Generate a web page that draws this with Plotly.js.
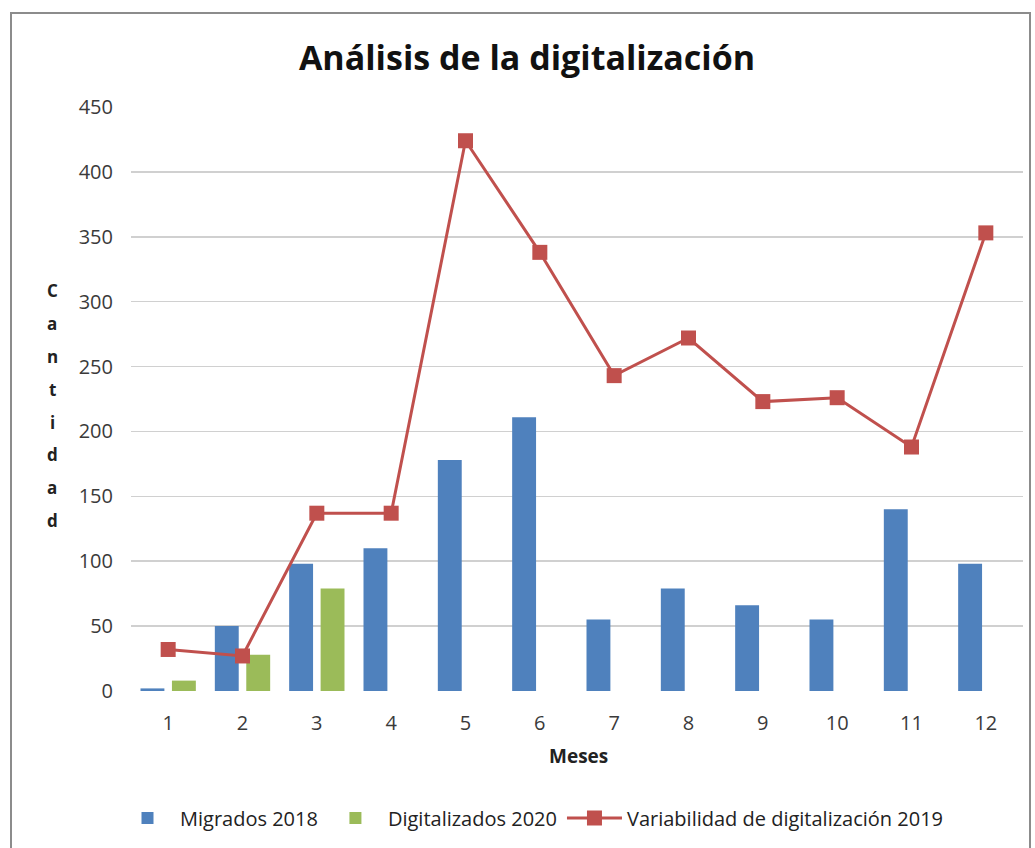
<!DOCTYPE html>
<html>
<head>
<meta charset="utf-8">
<script src="https://cdn.plot.ly/plotly-3.0.1.min.js"></script>
<style>
html,body{margin:0;padding:0;background:#fff;width:1035px;height:848px;overflow:hidden;}
#frame{position:absolute;left:10px;top:12px;width:1021px;height:836px;border:2px solid #8c8c8c;border-bottom:none;box-sizing:border-box;}
#chart{position:absolute;left:0;top:0;width:1035px;height:848px;}
</style>
</head>
<body>
<div id="frame"></div>
<div id="chart"></div>
<script>
const months = ['1','2','3','4','5','6','7','8','9','10','11','12'];
const migrados2018 = [2, 50, 98, 110, 178, 211, 55, 79, 66, 55, 140, 98];
const digitalizados2020 = [8, 28, 79, 0, 0, 0, 0, 0, 0, 0, 0, 0];
const variabilidad2019 = [32, 27, 137, 137, 424, 338, 243, 272, 223, 226, 188, 353];
const yTicks = [0, 50, 100, 150, 200, 250, 300, 350, 400, 450];
const yTitleLetters = ['C','a','n','t','i','d','a','d'];

const FONT = 'Open Sans, Noto Sans, sans-serif';

const traces = [
  {type:'bar', name:'Migrados 2018', x:months, y:migrados2018,
   marker:{color:'#4f81bd'}},
  {type:'bar', name:'Digitalizados 2020', x:months, y:digitalizados2020,
   marker:{color:'#9bbb59'}},
  {type:'scatter', mode:'lines+markers', name:'Variabilidad de digitalización 2019',
   x:months, y:variabilidad2019,
   line:{color:'#c0504d', width:3},
   marker:{symbol:'square', size:15, color:'#c0504d'}}
];

const annotations = [
  {text:'<b>Meses</b>', xref:'paper', yref:'paper', x:(578-131)/892, y:(692-757)/585,
   xanchor:'center', yanchor:'middle', showarrow:false,
   font:{family:FONT, size:19, color:'#222'}}
];
yTitleLetters.forEach((ch, i) => {
  annotations.push({text:'<b>'+ch+'</b>', xref:'paper', yref:'paper',
    x:(52-131)/892, y:(692-291 - i*32.9)/585, xanchor:'center', yanchor:'middle',
    showarrow:false, font:{family:FONT, size:17, color:'#222'}});
});

const layout = {
  width:1035, height:848, autosize:false,
  margin:{l:131, r:12, t:107, b:156, pad:0},
  paper_bgcolor:'rgba(0,0,0,0)', plot_bgcolor:'rgba(0,0,0,0)',
  title:{text:'<b>Análisis de la digitalización</b>', xref:'container', x:527/1035, xanchor:'center',
    yref:'container', y:1-58/848, yanchor:'middle',
    font:{family:FONT, size:34, color:'#111'}},
  barmode:'group', bargap:0.154, bargroupgap:0.24,
  xaxis:{type:'category', range:[-0.5, 11.5], autorange:false, automargin:false,
    showgrid:false, zeroline:false, showline:false,
    ticks:'', ticklabelstandoff:18,
    tickfont:{family:FONT, size:20, color:'#3a3a3a'}},
  yaxis:{range:[0,450], autorange:false, automargin:false, tickvals:yTicks, ticktext:yTicks.map(String),
    showgrid:true, gridcolor:'#d0d0d0', gridwidth:1.5, zeroline:false, showline:false,
    ticks:'', ticklabelstandoff:17,
    tickfont:{family:FONT, size:20, color:'#3a3a3a'}},
  showlegend:true,
  legend:{orientation:'h', x:(532-131)/892, xanchor:'center', y:(692-818)/585, yanchor:'middle',
    font:{family:FONT, size:20, color:'#222'}, itemwidth:55, tracegroupgap:0,
    traceorder:'normal'},
  annotations:annotations
};

Plotly.newPlot('chart', traces, layout, {displayModeBar:false, staticPlot:true});
</script>
</body>
</html>
